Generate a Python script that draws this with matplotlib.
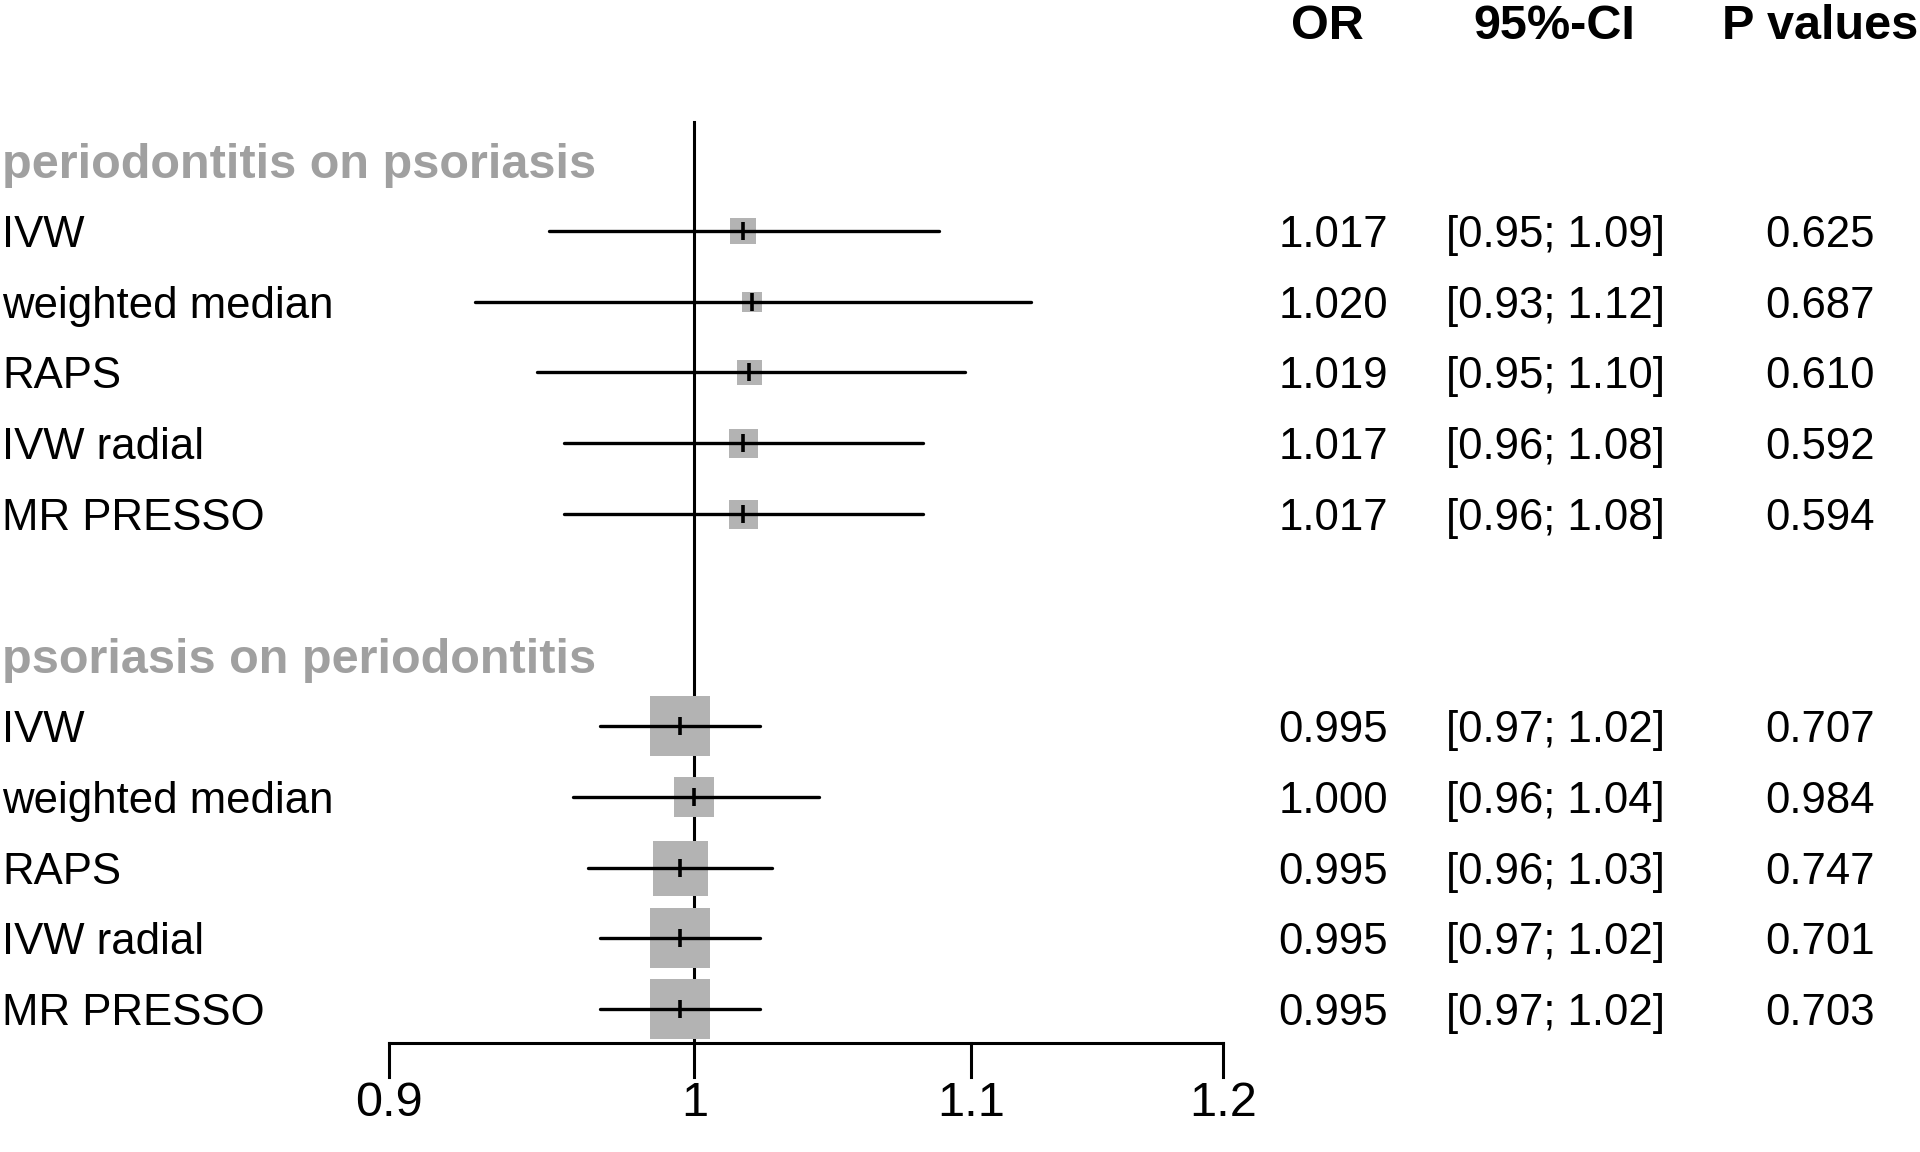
import matplotlib.pyplot as plt
import matplotlib.transforms as mtransforms
import numpy as np

plt.rcParams['font.family'] = ['Liberation Sans', 'DejaVu Sans']

groups = ['periodontitis on psoriasis', 'psoriasis on periodontitis']
methods = ['IVW', 'weighted median', 'RAPS', 'IVW radial', 'MR PRESSO']

or_vals = [[1.017, 1.020, 1.019, 1.017, 1.017],
           [0.995, 1.000, 0.995, 0.995, 0.995]]
ci_low = [[0.951, 0.927, 0.947, 0.956, 0.956],
          [0.968, 0.959, 0.964, 0.968, 0.968]]
ci_high = [[1.088, 1.123, 1.098, 1.082, 1.082],
           [1.023, 1.044, 1.027, 1.023, 1.023]]
p_vals = [[0.625, 0.687, 0.610, 0.592, 0.594],
          [0.707, 0.984, 0.747, 0.701, 0.703]]
# relative study weights (drive box size)
weights = [[27, 20, 25, 29, 29],
           [60, 40, 55, 60, 60]]

xticks = [0.9, 1, 1.1, 1.2]
xtick_labels = ['0.9', '1', '1.1', '1.2']
col_headers = ['OR', '95%-CI', 'P values']

fig = plt.figure(figsize=(19.2, 11.52), dpi=100)
ax = fig.add_axes([389 / 1920, 0, 834 / 1920, 1])
ax.set_xscale('log')
ax.set_xlim(0.9, 1.2)
ax.set_ylim(14.02, -2.266)
ax.axis('off')

trans = mtransforms.blended_transform_factory(fig.transFigure, ax.transData)
gray_box = '#b3b3b3'
fs = 31.5

# column positions (figure fraction)
x_label = 0.001
x_or = 1333 / 1920
x_ci = 1555 / 1920
x_p = 1820 / 1920

# column headers
for x, h in zip([1327 / 1920, 1554 / 1920, x_p], col_headers):
    ax.text(x, -1.96, h, transform=trans, ha='center', va='center_baseline',
            fontsize=35, fontweight='bold')

# reference line at OR = 1
ax.plot([1, 1], [-0.54, 12.48], color='black', lw=2.2, zorder=1, clip_on=False)

row = 0
for g in range(len(groups)):
    ax.text(x_label, row, groups[g], transform=trans, ha='left',
            va='center_baseline', fontsize=35, fontweight='bold', color='#a0a0a0')
    row += 1
    for i, m in enumerate(methods):
        side = weights[g][i] * 0.72
        ax.scatter(or_vals[g][i], row, s=side ** 2, marker='s', color=gray_box,
                   linewidths=0, zorder=2, clip_on=False)
        ax.plot([ci_low[g][i], ci_high[g][i]], [row, row], color='black',
                lw=2.4, solid_capstyle='round', zorder=3, clip_on=False)
        ax.plot(or_vals[g][i], row, marker='|', markersize=12.5,
                markeredgewidth=2.6, color='black', zorder=4, clip_on=False)

        ax.text(x_label, row, m, transform=trans, ha='left',
                va='center_baseline', fontsize=fs)
        ax.text(x_or, row, f'{or_vals[g][i]:.3f}', transform=trans,
                ha='center', va='center_baseline', fontsize=fs)
        ax.text(x_ci, row, f'[{ci_low[g][i]:.2f}; {ci_high[g][i]:.2f}]',
                transform=trans, ha='center', va='center_baseline', fontsize=fs)
        ax.text(x_p, row, f'{p_vals[g][i]:.3f}', transform=trans,
                ha='center', va='center_baseline', fontsize=fs)
        row += 1
    row += 1

# x axis drawn by hand, forest-plot style
axis_y = 12.48
ax.plot([xticks[0], xticks[-1]], [axis_y, axis_y], color='black', lw=2.2,
        clip_on=False)
for t, lab in zip(xticks, xtick_labels):
    ax.plot([t, t], [axis_y, axis_y + 0.48], color='black', lw=2.2, clip_on=False)
    ax.text(t, 13.27, lab, ha='center', va='center_baseline', fontsize=35)

fig.savefig('out.png', dpi=100)
